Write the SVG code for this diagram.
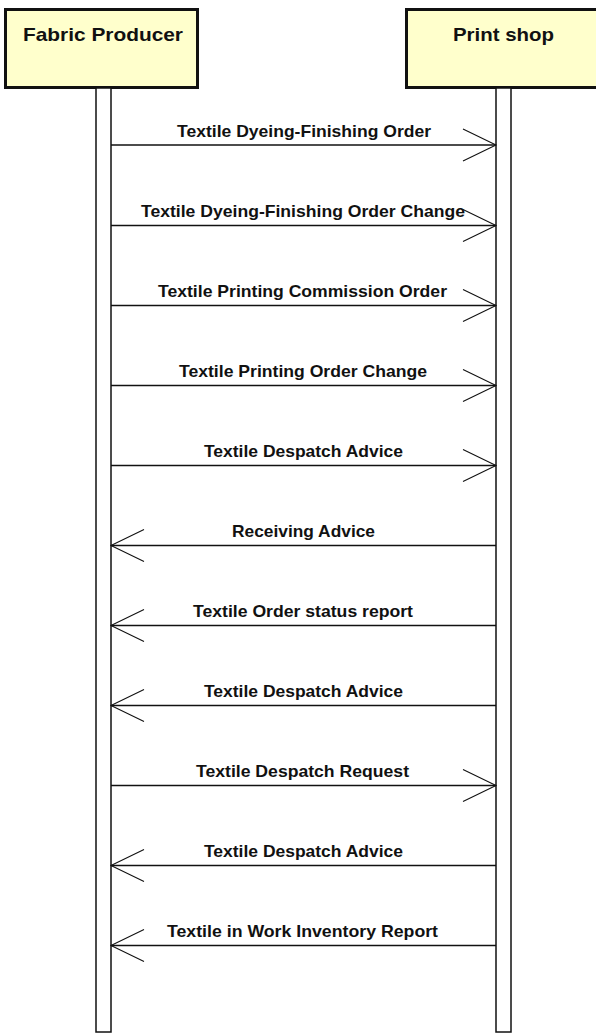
<svg xmlns="http://www.w3.org/2000/svg" width="596" height="1035" viewBox="0 0 596 1035">
<style>
.box{fill:#ffffcc;stroke:#111;stroke-width:3}
.life{fill:#fff;stroke:#111;stroke-width:1.5}
.title{font-family:"Liberation Sans",Arial,sans-serif;font-weight:bold;font-size:18.5px;fill:#111;text-anchor:middle}
.lbl{font-family:"Liberation Sans",Arial,sans-serif;font-weight:bold;font-size:16.5px;fill:#111;text-anchor:middle}
.msg{stroke:#111;stroke-width:1.3;fill:none}
.head{stroke:#111;stroke-width:1.1;fill:none}
</style>
<rect width="596" height="1035" fill="#fff"/>
<g id="fabric-producer">
<rect class="box" x="5.5" y="9.5" width="192" height="78"/>
<text class="title" x="103" y="41" textLength="160" lengthAdjust="spacingAndGlyphs">Fabric Producer</text>
<rect class="life" x="96" y="88" width="15" height="944"/>
</g>
<g id="print-shop">
<rect class="box" x="406.5" y="9.5" width="192" height="78"/>
<text class="title" x="503.5" y="41" textLength="101" lengthAdjust="spacingAndGlyphs">Print shop</text>
<rect class="life" x="496" y="88" width="15" height="944"/>
</g>
<g id="connectors">
<g id="m1"><path class="msg" d="M111 145H496"/><path class="head" d="M463 129L496 145L463 161"/><text class="lbl" x="304" y="137" textLength="254" lengthAdjust="spacingAndGlyphs">Textile Dyeing-Finishing Order</text></g>
<g id="m2"><path class="msg" d="M111 225.5H496"/><path class="head" d="M463 209.5L496 225.5L463 241.5"/><text class="lbl" x="303" y="217" textLength="324" lengthAdjust="spacingAndGlyphs">Textile Dyeing-Finishing Order Change</text></g>
<g id="m3"><path class="msg" d="M111 305.5H496"/><path class="head" d="M463 289.5L496 305.5L463 321.5"/><text class="lbl" x="302.5" y="297" textLength="289" lengthAdjust="spacingAndGlyphs">Textile Printing Commission Order</text></g>
<g id="m4"><path class="msg" d="M111 385.5H496"/><path class="head" d="M463 369.5L496 385.5L463 401.5"/><text class="lbl" x="303" y="377" textLength="248" lengthAdjust="spacingAndGlyphs">Textile Printing Order Change</text></g>
<g id="m5"><path class="msg" d="M111 465.5H496"/><path class="head" d="M463 449.5L496 465.5L463 481.5"/><text class="lbl" x="303.5" y="457" textLength="199" lengthAdjust="spacingAndGlyphs">Textile Despatch Advice</text></g>
<g id="m6"><path class="msg" d="M111 545.5H496"/><path class="head" d="M144 529.5L111 545.5L144 561.5"/><text class="lbl" x="303.5" y="537" textLength="143" lengthAdjust="spacingAndGlyphs">Receiving Advice</text></g>
<g id="m7"><path class="msg" d="M111 625.5H496"/><path class="head" d="M144 609.5L111 625.5L144 641.5"/><text class="lbl" x="303" y="617" textLength="220" lengthAdjust="spacingAndGlyphs">Textile Order status report</text></g>
<g id="m8"><path class="msg" d="M111 705.5H496"/><path class="head" d="M144 689.5L111 705.5L144 721.5"/><text class="lbl" x="303.5" y="697" textLength="199" lengthAdjust="spacingAndGlyphs">Textile Despatch Advice</text></g>
<g id="m9"><path class="msg" d="M111 785.5H496"/><path class="head" d="M463 769.5L496 785.5L463 801.5"/><text class="lbl" x="302.5" y="777" textLength="213" lengthAdjust="spacingAndGlyphs">Textile Despatch Request</text></g>
<g id="m10"><path class="msg" d="M111 865.5H496"/><path class="head" d="M144 849.5L111 865.5L144 881.5"/><text class="lbl" x="303.5" y="857" textLength="199" lengthAdjust="spacingAndGlyphs">Textile Despatch Advice</text></g>
<g id="m11"><path class="msg" d="M111 945.5H496"/><path class="head" d="M144 929.5L111 945.5L144 961.5"/><text class="lbl" x="302.5" y="937" textLength="271" lengthAdjust="spacingAndGlyphs">Textile in Work Inventory Report</text></g>
</g>
</svg>
